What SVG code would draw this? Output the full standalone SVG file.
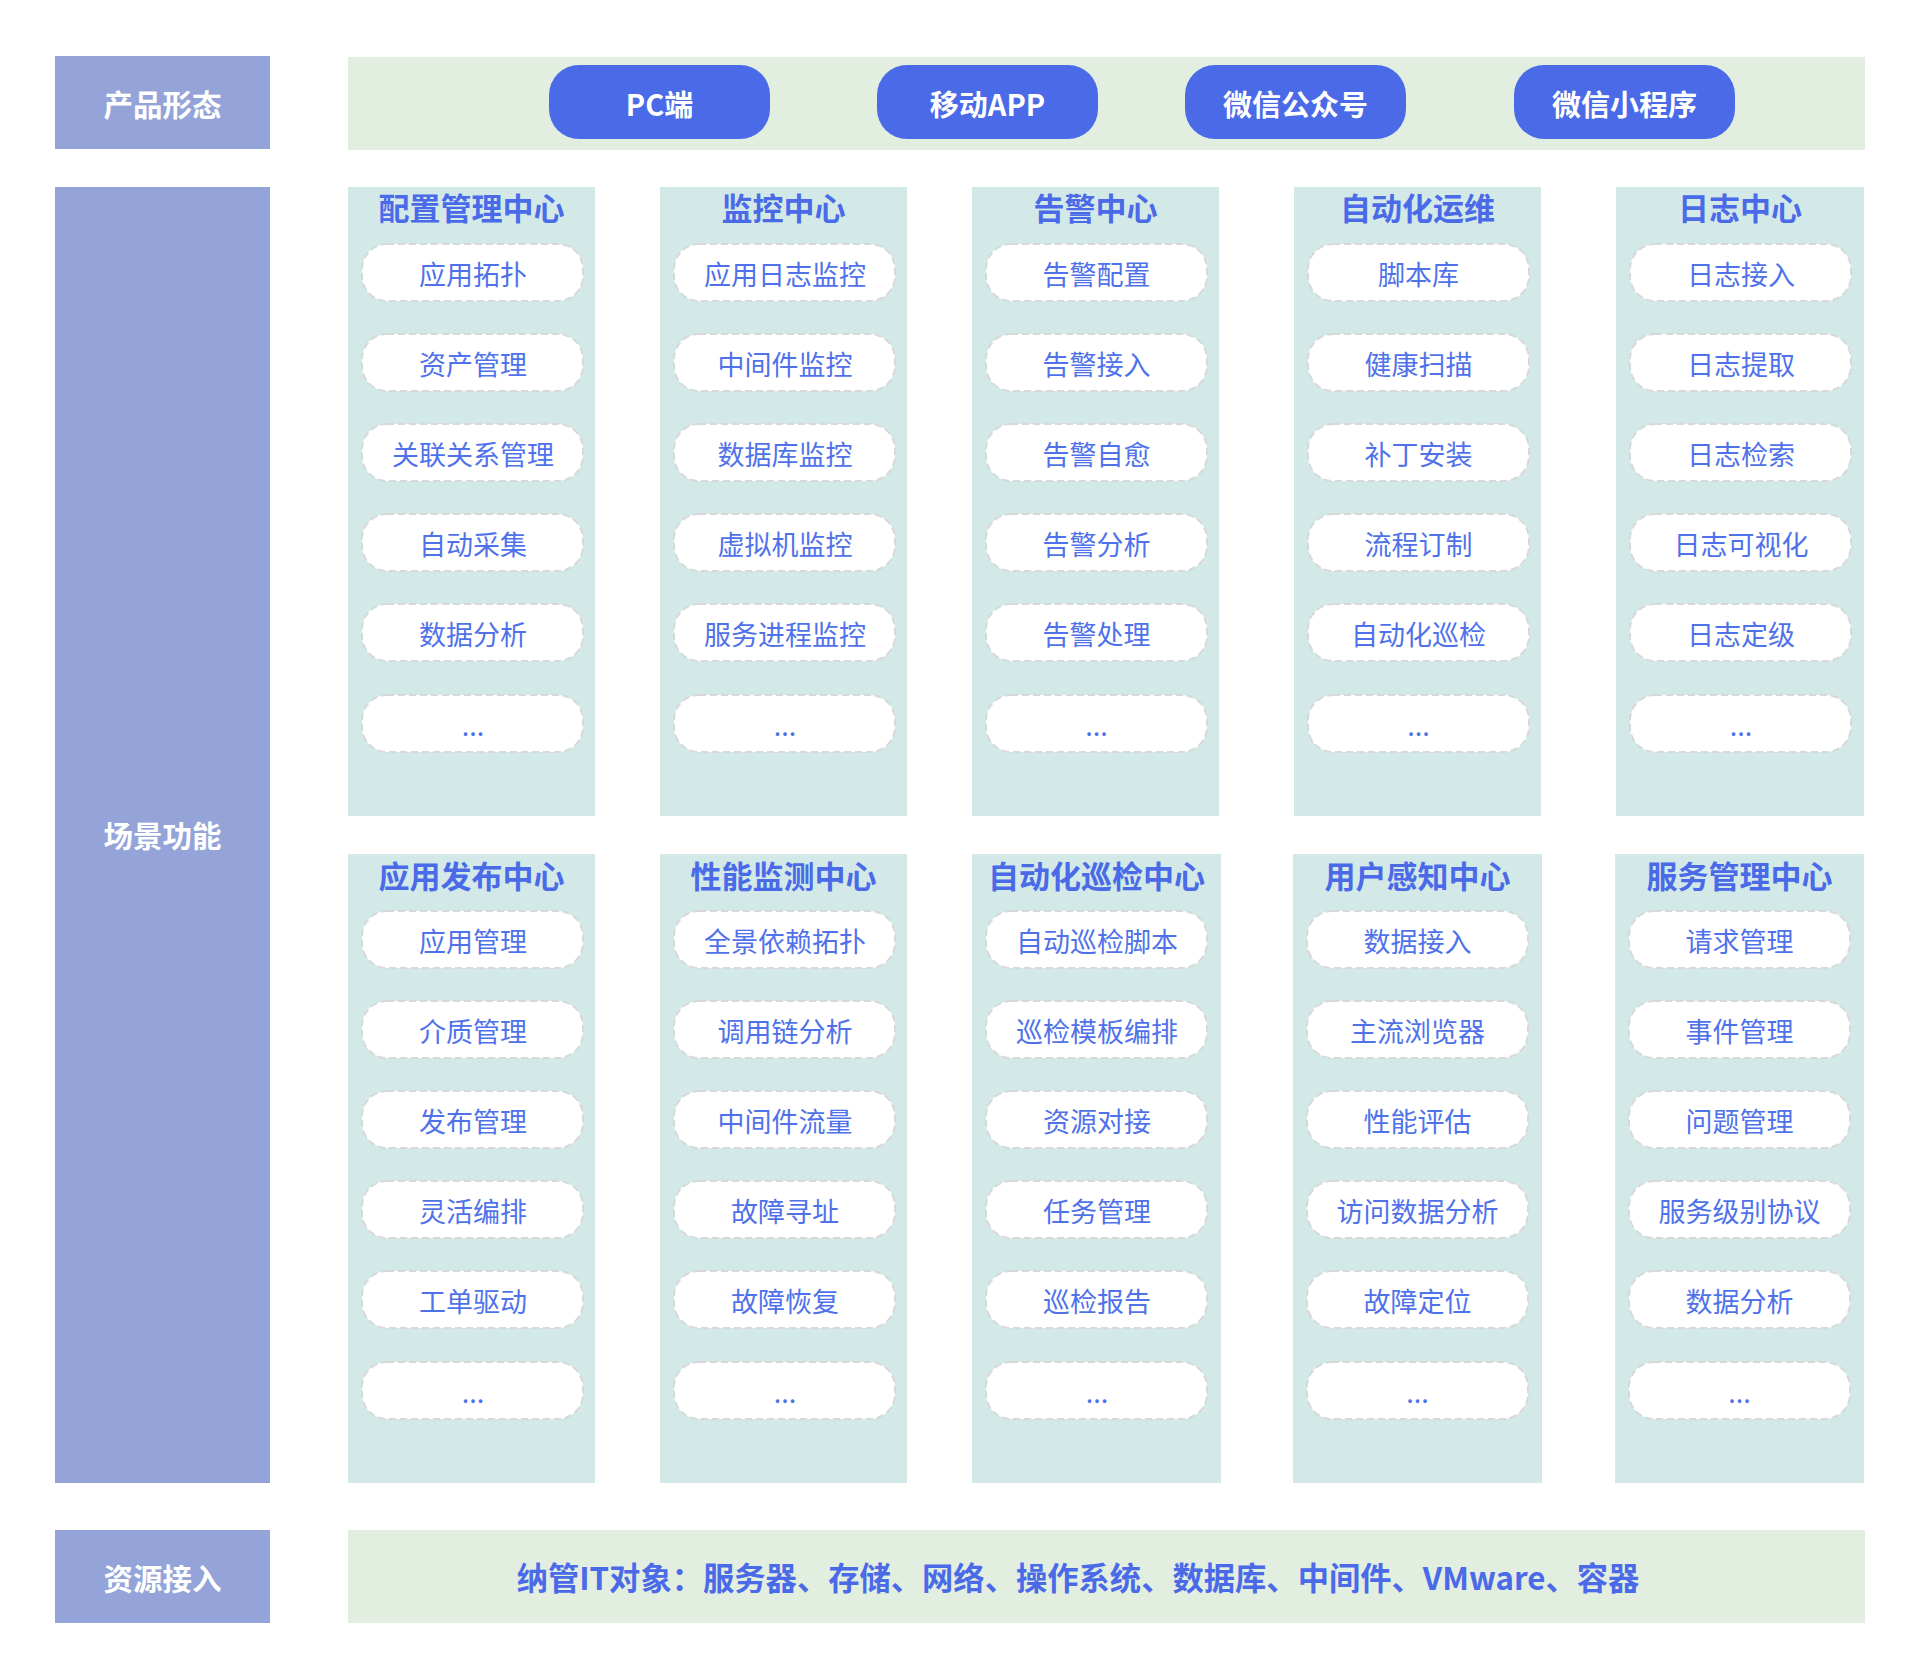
<svg xmlns="http://www.w3.org/2000/svg" width="1920" height="1679" viewBox="0 0 1920 1679">
<style>
text{font-family:"Noto Sans CJK SC","Microsoft YaHei","Noto Sans",sans-serif;text-anchor:middle}
.side{fill:#94A4D8}
.band{fill:#E2EEE0}
.col{fill:#D2E9E8}
.lbl{fill:#ffffff;font-size:29.5px;font-weight:700}
.pf{fill:#4A6AE8}
.pft{fill:#ffffff;font-size:29px;font-weight:700}
.ttl{fill:#4A6AE8;font-size:31px;font-weight:700}
.it{fill:#ffffff;stroke:#D8D8DA;stroke-width:2;stroke-dasharray:7 4}
.itt{fill:#4F72EA;font-size:27px}
.res{fill:#4A6AE8;font-size:31.3px;font-weight:700}
</style>
<rect width="1920" height="1679" fill="#ffffff"/>

<g id="row-product">
<rect class="side" x="55" y="56" width="215" height="93"/>
<text class="lbl" x="162.5" y="116">产品形态</text>
<rect class="band" x="348" y="57" width="1517" height="93"/>
<g id="pf-pc"><rect class="pf" x="549" y="65" width="221" height="74" rx="30"/><text class="pft" x="659.5" y="116">PC端</text></g>
<g id="pf-app"><rect class="pf" x="877" y="65" width="221" height="74" rx="30"/><text class="pft" x="987.5" y="116">移动APP</text></g>
<g id="pf-mp"><rect class="pf" x="1185" y="65" width="221" height="74" rx="30"/><text class="pft" x="1295.5" y="116">微信公众号</text></g>
<g id="pf-mini"><rect class="pf" x="1514" y="65" width="221" height="74" rx="30"/><text class="pft" x="1624.5" y="116">微信小程序</text></g>
</g>

<g id="row-scene">
<rect class="side" x="55" y="187" width="215" height="1296"/>
<text class="lbl" x="162.5" y="847">场景功能</text>
</g>

<defs>
<rect id="ip" class="it" x="0" y="0" width="221" height="57" rx="25"/>
</defs>

<!-- top group -->
<g id="c-config">
<rect class="col" x="348" y="187" width="247" height="629"/>
<text class="ttl" x="471.5" y="220">配置管理中心</text>
<use href="#ip" x="362" y="244"/><text class="itt" x="473" y="285">应用拓扑</text>
<use href="#ip" x="362" y="334"/><text class="itt" x="473" y="375">资产管理</text>
<use href="#ip" x="362" y="424"/><text class="itt" x="473" y="465">关联关系管理</text>
<use href="#ip" x="362" y="514"/><text class="itt" x="473" y="555">自动采集</text>
<use href="#ip" x="362" y="604"/><text class="itt" x="473" y="645">数据分析</text>
<use href="#ip" x="362" y="695"/><text class="itt" x="473" y="736">...</text>
</g>
<g id="c-monitor">
<rect class="col" x="660" y="187" width="247" height="629"/>
<text class="ttl" x="783.5" y="220">监控中心</text>
<use href="#ip" x="674" y="244"/><text class="itt" x="785" y="285">应用日志监控</text>
<use href="#ip" x="674" y="334"/><text class="itt" x="785" y="375">中间件监控</text>
<use href="#ip" x="674" y="424"/><text class="itt" x="785" y="465">数据库监控</text>
<use href="#ip" x="674" y="514"/><text class="itt" x="785" y="555">虚拟机监控</text>
<use href="#ip" x="674" y="604"/><text class="itt" x="785" y="645">服务进程监控</text>
<use href="#ip" x="674" y="695"/><text class="itt" x="785" y="736">...</text>
</g>
<g id="c-alert">
<rect class="col" x="972" y="187" width="247" height="629"/>
<text class="ttl" x="1095.5" y="220">告警中心</text>
<use href="#ip" x="986" y="244"/><text class="itt" x="1096.5" y="285">告警配置</text>
<use href="#ip" x="986" y="334"/><text class="itt" x="1096.5" y="375">告警接入</text>
<use href="#ip" x="986" y="424"/><text class="itt" x="1096.5" y="465">告警自愈</text>
<use href="#ip" x="986" y="514"/><text class="itt" x="1096.5" y="555">告警分析</text>
<use href="#ip" x="986" y="604"/><text class="itt" x="1096.5" y="645">告警处理</text>
<use href="#ip" x="986" y="695"/><text class="itt" x="1096.5" y="736">...</text>
</g>
<g id="c-autoops">
<rect class="col" x="1294" y="187" width="247" height="629"/>
<text class="ttl" x="1417.5" y="220">自动化运维</text>
<use href="#ip" x="1308" y="244"/><text class="itt" x="1418.5" y="285">脚本库</text>
<use href="#ip" x="1308" y="334"/><text class="itt" x="1418.5" y="375">健康扫描</text>
<use href="#ip" x="1308" y="424"/><text class="itt" x="1418.5" y="465">补丁安装</text>
<use href="#ip" x="1308" y="514"/><text class="itt" x="1418.5" y="555">流程订制</text>
<use href="#ip" x="1308" y="604"/><text class="itt" x="1418.5" y="645">自动化巡检</text>
<use href="#ip" x="1308" y="695"/><text class="itt" x="1418.5" y="736">...</text>
</g>
<g id="c-log">
<rect class="col" x="1616" y="187" width="248" height="629"/>
<text class="ttl" x="1740" y="220">日志中心</text>
<use href="#ip" x="1630" y="244"/><text class="itt" x="1741" y="285">日志接入</text>
<use href="#ip" x="1630" y="334"/><text class="itt" x="1741" y="375">日志提取</text>
<use href="#ip" x="1630" y="424"/><text class="itt" x="1741" y="465">日志检索</text>
<use href="#ip" x="1630" y="514"/><text class="itt" x="1741" y="555">日志可视化</text>
<use href="#ip" x="1630" y="604"/><text class="itt" x="1741" y="645">日志定级</text>
<use href="#ip" x="1630" y="695"/><text class="itt" x="1741" y="736">...</text>
</g>

<!-- bottom group -->
<g id="c-release">
<rect class="col" x="348" y="854" width="247" height="629"/>
<text class="ttl" x="471.5" y="888">应用发布中心</text>
<use href="#ip" x="362" y="911"/><text class="itt" x="473" y="952">应用管理</text>
<use href="#ip" x="362" y="1001"/><text class="itt" x="473" y="1042">介质管理</text>
<use href="#ip" x="362" y="1091"/><text class="itt" x="473" y="1132">发布管理</text>
<use href="#ip" x="362" y="1181"/><text class="itt" x="473" y="1222">灵活编排</text>
<use href="#ip" x="362" y="1271"/><text class="itt" x="473" y="1312">工单驱动</text>
<use href="#ip" x="362" y="1362"/><text class="itt" x="473" y="1403">...</text>
</g>
<g id="c-perf">
<rect class="col" x="660" y="854" width="247" height="629"/>
<text class="ttl" x="783.5" y="888">性能监测中心</text>
<use href="#ip" x="674" y="911"/><text class="itt" x="785" y="952">全景依赖拓扑</text>
<use href="#ip" x="674" y="1001"/><text class="itt" x="785" y="1042">调用链分析</text>
<use href="#ip" x="674" y="1091"/><text class="itt" x="785" y="1132">中间件流量</text>
<use href="#ip" x="674" y="1181"/><text class="itt" x="785" y="1222">故障寻址</text>
<use href="#ip" x="674" y="1271"/><text class="itt" x="785" y="1312">故障恢复</text>
<use href="#ip" x="674" y="1362"/><text class="itt" x="785" y="1403">...</text>
</g>
<g id="c-inspect">
<rect class="col" x="972" y="854" width="249" height="629"/>
<text class="ttl" x="1096.5" y="888">自动化巡检中心</text>
<use href="#ip" x="986" y="911"/><text class="itt" x="1097" y="952">自动巡检脚本</text>
<use href="#ip" x="986" y="1001"/><text class="itt" x="1097" y="1042">巡检模板编排</text>
<use href="#ip" x="986" y="1091"/><text class="itt" x="1097" y="1132">资源对接</text>
<use href="#ip" x="986" y="1181"/><text class="itt" x="1097" y="1222">任务管理</text>
<use href="#ip" x="986" y="1271"/><text class="itt" x="1097" y="1312">巡检报告</text>
<use href="#ip" x="986" y="1362"/><text class="itt" x="1097" y="1403">...</text>
</g>
<g id="c-ux">
<rect class="col" x="1293" y="854" width="249" height="629"/>
<text class="ttl" x="1417.5" y="888">用户感知中心</text>
<use href="#ip" x="1307" y="911"/><text class="itt" x="1417.5" y="952">数据接入</text>
<use href="#ip" x="1307" y="1001"/><text class="itt" x="1417.5" y="1042">主流浏览器</text>
<use href="#ip" x="1307" y="1091"/><text class="itt" x="1417.5" y="1132">性能评估</text>
<use href="#ip" x="1307" y="1181"/><text class="itt" x="1417.5" y="1222">访问数据分析</text>
<use href="#ip" x="1307" y="1271"/><text class="itt" x="1417.5" y="1312">故障定位</text>
<use href="#ip" x="1307" y="1362"/><text class="itt" x="1417.5" y="1403">...</text>
</g>
<g id="c-service">
<rect class="col" x="1615" y="854" width="249" height="629"/>
<text class="ttl" x="1739.5" y="888">服务管理中心</text>
<use href="#ip" x="1629" y="911"/><text class="itt" x="1739.5" y="952">请求管理</text>
<use href="#ip" x="1629" y="1001"/><text class="itt" x="1739.5" y="1042">事件管理</text>
<use href="#ip" x="1629" y="1091"/><text class="itt" x="1739.5" y="1132">问题管理</text>
<use href="#ip" x="1629" y="1181"/><text class="itt" x="1739.5" y="1222">服务级别协议</text>
<use href="#ip" x="1629" y="1271"/><text class="itt" x="1739.5" y="1312">数据分析</text>
<use href="#ip" x="1629" y="1362"/><text class="itt" x="1739.5" y="1403">...</text>
</g>

<g id="row-resource">
<rect class="side" x="55" y="1530" width="215" height="93"/>
<text class="lbl" x="162.5" y="1590">资源接入</text>
<rect class="band" x="348" y="1530" width="1517" height="93"/>
<text class="res" x="1078" y="1590">纳管IT对象：服务器、存储、网络、操作系统、数据库、中间件、VMware、容器</text>
</g>

<g id="connectors"></g>
</svg>
